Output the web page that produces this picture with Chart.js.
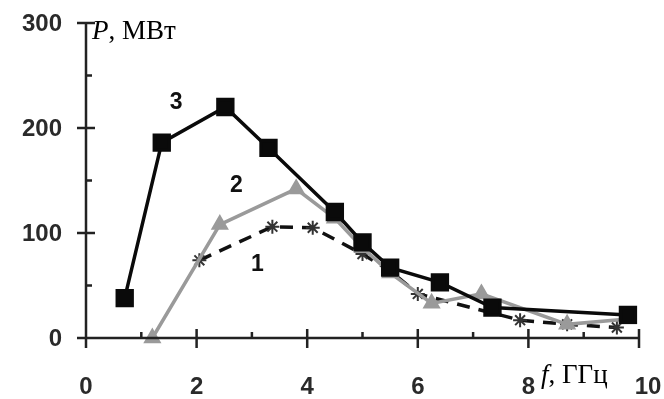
<!DOCTYPE html>
<html>
<head>
<meta charset="utf-8">
<script src="https://cdn.jsdelivr.net/npm/chart.js@4/dist/chart.umd.min.js"></script>
<style>
  html, body { margin: 0; padding: 0; background: #fff; }
  #wrap { width: 664px; height: 399px; }
</style>
</head>
<body>
<div id="wrap"><canvas id="powerChart" width="664" height="399"></canvas></div>
<script>
// curve 1 - dashed, asterisks
const f1 = [2.05, 3.37, 4.1, 5.0, 5.5, 6.0, 7.85, 8.7, 9.6];
const p1 = [74, 106, 105, 80, 64, 42, 17, 13, 10];
// curve 2 - grey, triangles
const f2 = [1.2, 2.42, 3.8, 4.5, 5.0, 5.5, 6.25, 7.15, 8.7, 9.8];
const p2 = [0, 108, 142, 114, 86, 62, 33, 42, 13, 18];
// curve 3 - black, squares
const f3 = [0.7, 1.37, 2.52, 3.3, 4.5, 5.0, 5.5, 6.4, 7.35, 9.8];
const p3 = [38, 186, 220, 181, 120, 91, 67, 53, 29, 22];

const xTicks = [0, 2, 4, 6, 8, 10];
const yTicks = [0, 100, 200, 300];

// curve numbers, placed in data units
const curveNames = ['3', '2', '1'];
const nameX = [1.63, 2.72, 3.1];
const nameY = [224, 145, 70];

const pts = (xs, ys) => xs.map((x, i) => ({ x: x, y: ys[i] }));

const axesPlugin = {
  id: 'axesPlugin',
  afterDraw(chart) {
    const ctx = chart.ctx;
    const xs = chart.scales.x, ys = chart.scales.y;
    const left = xs.getPixelForValue(0), right = xs.getPixelForValue(10);
    const bottom = ys.getPixelForValue(0), top = ys.getPixelForValue(300);
    ctx.save();
    ctx.strokeStyle = '#222';
    ctx.lineWidth = 2.5;
    ctx.beginPath();
    ctx.moveTo(left, top); ctx.lineTo(left, bottom + 8);
    ctx.moveTo(left - 8, bottom); ctx.lineTo(right, bottom);
    for (let v = 0; v <= 300; v += 50) {
      const y = ys.getPixelForValue(v);
      if (v % 100 === 0) { ctx.moveTo(left - 9, y); ctx.lineTo(left + 9, y); }
      else { ctx.moveTo(left, y); ctx.lineTo(left + 6, y); }
    }
    for (let v = 0; v <= 10; v++) {
      const x = xs.getPixelForValue(v);
      if (v % 2 === 0) { ctx.moveTo(x, bottom - 9); ctx.lineTo(x, bottom + 10); }
      else { ctx.moveTo(x, bottom - 6); ctx.lineTo(x, bottom); }
    }
    ctx.stroke();

    ctx.fillStyle = '#2a2a2a';
    ctx.font = 'bold 24px "Liberation Sans", Arial, sans-serif';
    ctx.textAlign = 'right';
    ctx.textBaseline = 'middle';
    yTicks.forEach(v => ctx.fillText(String(v), left - 24, ys.getPixelForValue(v) + 1));
    ctx.textAlign = 'center';
    xTicks.forEach(v => ctx.fillText(String(v), xs.getPixelForValue(v) + (v === 10 ? 9 : 0), 387));

    // curve numbers
    ctx.fillStyle = '#111';
    ctx.font = 'bold 23px "Liberation Sans", Arial, sans-serif';
    curveNames.forEach((t, i) => ctx.fillText(t, xs.getPixelForValue(nameX[i]), ys.getPixelForValue(nameY[i])));

    // axis titles
    ctx.textAlign = 'left';
    ctx.textBaseline = 'alphabetic';
    ctx.fillStyle = '#000';
    ctx.font = 'italic 27px "Liberation Serif", "Times New Roman", serif';
    ctx.fillText('P', left + 6, 39);
    let w = ctx.measureText('P').width;
    ctx.font = '27px "Liberation Serif", "Times New Roman", serif';
    ctx.fillText(', МВт', left + 6 + w, 39);

    ctx.font = 'italic 27px "Liberation Serif", "Times New Roman", serif';
    ctx.fillText('f', 541, 383);
    w = ctx.measureText('f').width;
    ctx.font = '27px "Liberation Serif", "Times New Roman", serif';
    ctx.fillText(', ГГц', 541 + w, 383);
    ctx.restore();
  }
};

window.addEventListener('DOMContentLoaded', () => {
  const ctx = document.getElementById('powerChart').getContext('2d');
  new Chart(ctx, {
    type: 'line',
    data: {
      datasets: [
        {
          label: '1',
          data: pts(f1, p1),
          borderColor: '#111',
          borderWidth: 3.5,
          borderDash: [13, 9],
          pointStyle: 'star',
          pointRadius: 7,
          pointBorderWidth: 2,
          pointBorderColor: '#333',
          clip: false,
          order: 3
        },
        {
          label: '2',
          data: pts(f2, p2),
          borderColor: '#9a9a9a',
          borderWidth: 3.5,
          pointStyle: 'triangle',
          pointRadius: 7,
          pointBackgroundColor: '#9a9a9a',
          pointBorderColor: '#9a9a9a',
          clip: false,
          order: 2
        },
        {
          label: '3',
          data: pts(f3, p3),
          borderColor: '#0a0a0a',
          borderWidth: 3.5,
          pointStyle: 'rect',
          pointRadius: 10.5,
          pointBackgroundColor: '#0a0a0a',
          pointBorderColor: '#0a0a0a',
          clip: false,
          order: 1
        }
      ]
    },
    options: {
      responsive: false,
      animation: false,
      layout: { padding: { left: 86, right: 25, top: 23, bottom: 61 } },
      scales: {
        x: { type: 'linear', min: 0, max: 10, display: false },
        y: { min: 0, max: 300, display: false }
      },
      plugins: {
        legend: { display: false },
        tooltip: { enabled: false }
      }
    },
    plugins: [axesPlugin]
  });
});
</script>
</body>
</html>
